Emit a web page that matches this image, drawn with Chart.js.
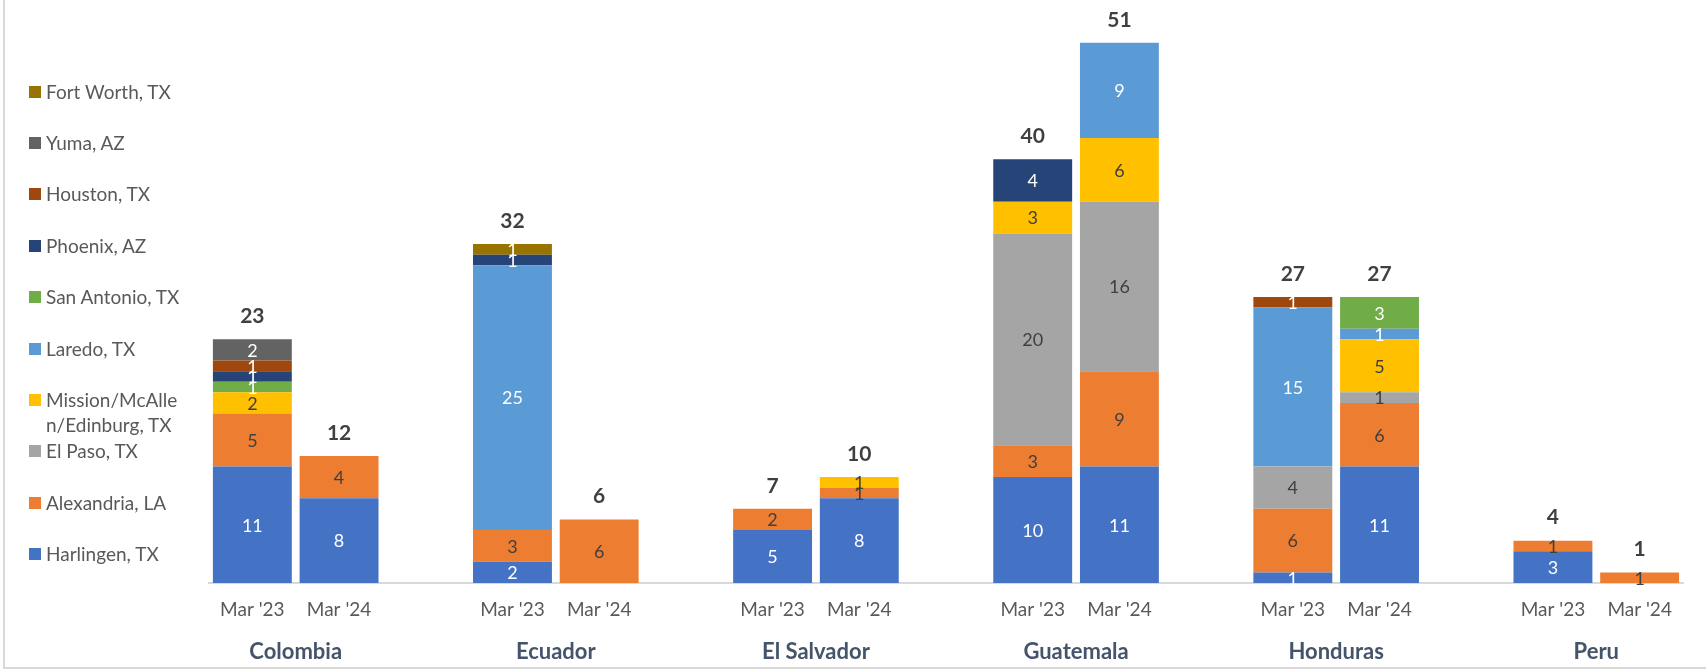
<!DOCTYPE html>
<html>
<head>
<meta charset="utf-8">
<script src="https://cdn.jsdelivr.net/npm/chart.js@4.4.1/dist/chart.umd.min.js"></script>
<style>
  body { margin: 0; background: #fff; }
  #wrap { position: relative; width: 1706px; height: 670px; overflow: hidden; font-family: Lato, sans-serif; }
  #frame { position: absolute; left: 3px; top: -4px; width: 1712px; height: 673px; box-sizing: border-box;
           border-left: 2px solid #d9d9d9; border-bottom: 2px solid #d9d9d9; pointer-events: none; }
  #chart { position: absolute; left: 0; top: 0; }
  .item { position: absolute; left: 29px; display: flex; align-items: flex-start; }
  .box { width: 12px; height: 12px; margin-top: 7px; flex: none; }
  .txt { margin-left: 5px; white-space: nowrap; line-height: 25px; font-size: 19px; color: #595959; }
  .txt.wrap { white-space: normal; width: 132px; word-break: break-all; }
</style>
</head>
<body>
<div id="wrap">
  <canvas id="chart" width="1706" height="670"></canvas>
  <div id="legend"></div>
  <div id="frame"></div>
</div>
<script>
// Countries and periods (two bars per country)
const countries = ['Colombia', 'Ecuador', 'El Salvador', 'Guatemala', 'Honduras', 'Peru'];
const periods = ["Mar '23", "Mar '24"];

// Values per port, in order: Colombia 23/24, Ecuador 23/24, El Salvador 23/24,
// Guatemala 23/24, Honduras 23/24, Peru 23/24
const harlingen   = [11, 8, 2, 0, 5, 8, 10, 11, 1, 11, 3, 0];
const alexandria  = [5, 4, 3, 6, 2, 1, 3, 9, 6, 6, 1, 1];
const elPaso      = [0, 0, 0, 0, 0, 0, 20, 16, 4, 1, 0, 0];
const mission     = [2, 0, 0, 0, 0, 1, 3, 6, 0, 5, 0, 0];
const laredo      = [0, 0, 25, 0, 0, 0, 0, 9, 15, 1, 0, 0];
const sanAntonio  = [1, 0, 0, 0, 0, 0, 0, 0, 0, 3, 0, 0];
const phoenix     = [1, 0, 1, 0, 0, 0, 4, 0, 0, 0, 0, 0];
const houston     = [1, 0, 0, 0, 0, 0, 0, 0, 1, 0, 0, 0];
const yuma        = [2, 0, 0, 0, 0, 0, 0, 0, 0, 0, 0, 0];
const fortWorth   = [0, 0, 1, 0, 0, 0, 0, 0, 0, 0, 0, 0];

// Series definitions, bottom of stack first
const series = [
  { label: 'Harlingen, TX', data: harlingen, color: '#4472C4', text: '#ffffff' },
  { label: 'Alexandria, LA', data: alexandria, color: '#ED7D31', text: '#404040' },
  { label: 'El Paso, TX', data: elPaso, color: '#A5A5A5', text: '#404040' },
  { label: 'Mission/McAllen/Edinburg, TX', data: mission, color: '#FFC000', text: '#404040' },
  { label: 'Laredo, TX', data: laredo, color: '#5B9BD5', text: '#ffffff' },
  { label: 'San Antonio, TX', data: sanAntonio, color: '#70AD47', text: '#ffffff' },
  { label: 'Phoenix, AZ', data: phoenix, color: '#264478', text: '#ffffff' },
  { label: 'Houston, TX', data: houston, color: '#9E480E', text: '#ffffff' },
  { label: 'Yuma, AZ', data: yuma, color: '#636363', text: '#ffffff' },
  { label: 'Fort Worth, TX', data: fortWorth, color: '#997300', text: '#ffffff' }
];

// Expand to category slots with an empty slot between countries
const slotLabels = [];
countries.forEach((c, k) => {
  if (k > 0) slotLabels.push('');
  periods.forEach(p => slotLabels.push(p));
});

function toSlots(values) {
  const out = [];
  countries.forEach((c, k) => {
    if (k > 0) out.push(null);
    out.push(values[k * 2], values[k * 2 + 1]);
  });
  return out;
}

// Draws segment values, bar totals and country names
const labelsPlugin = {
  id: 'barLabels',
  afterDatasetsDraw(chart) {
    const ctx = chart.ctx;
    const xs = chart.scales.x;
    const ys = chart.scales.y;
    ctx.save();
    ctx.textAlign = 'center';
    ctx.textBaseline = 'middle';

    ctx.font = '18px Lato';
    chart.data.datasets.forEach((ds, di) => {
      const meta = chart.getDatasetMeta(di);
      meta.data.forEach((bar, i) => {
        const v = ds.data[i];
        if (!v) return;
        ctx.fillStyle = ds.valueColor;
        ctx.fillText(String(v), bar.x, (bar.y + bar.base) / 2 + 1);
      });
    });

    ctx.font = 'bold 21px Lato';
    ctx.fillStyle = '#404040';
    slotLabels.forEach((l, i) => {
      if (!l) return;
      const total = chart.data.datasets.reduce((s, ds) => s + (ds.data[i] || 0), 0);
      ctx.fillText(String(total), xs.getPixelForValue(i), ys.getPixelForValue(total) - 23);
    });

    ctx.font = 'bold 22px Lato';
    ctx.fillStyle = '#44546A';
    countries.forEach((c, k) => {
      const cx = (xs.getPixelForValue(k * 3) + xs.getPixelForValue(k * 3 + 1)) / 2;
      ctx.fillText(c, cx, chart.chartArea.bottom + 69);
    });
    ctx.restore();
  }
};

function buildLegend() {
  const legend = document.getElementById('legend');
  series.slice().reverse().forEach((s, i) => {
    const item = document.createElement('div');
    item.className = 'item';
    item.style.top = (91 + i * 51.4 - 12.5) + 'px';
    const cls = s.label.length > 20 ? 'txt wrap' : 'txt';
    item.innerHTML = '<div class="box" style="background:' + s.color + '"></div>' +
                     '<div class="' + cls + '">' + s.label + '</div>';
    legend.appendChild(item);
  });
}

function drawChart() {
  const ctx = document.getElementById('chart').getContext('2d');
  return new Chart(ctx, {
    type: 'bar',
    data: {
      labels: slotLabels,
      datasets: series.map(s => ({
        label: s.label,
        data: toSlots(s.data),
        backgroundColor: s.color,
        valueColor: s.text,
        borderWidth: 0,
        barPercentage: 0.91,
        categoryPercentage: 1.0
      }))
    },
    options: {
      responsive: false,
      animation: false,
      devicePixelRatio: 1,
      layout: { padding: { left: 209, right: 23, top: 11, bottom: 0 } },
      plugins: {
        legend: { display: false },
        tooltip: { enabled: false }
      },
      scales: {
        x: {
          stacked: true,
          grid: { display: false, drawTicks: false },
          border: { display: true, color: '#d9d9d9', width: 2 },
          ticks: {
            color: '#595959',
            font: { family: 'Lato', size: 19 },
            padding: 15,
            autoSkip: false,
            maxRotation: 0
          },
          afterFit(scale) { scale.height = 87; }
        },
        y: {
          stacked: true,
          display: false,
          min: 0,
          max: 54
        }
      }
    },
    plugins: [labelsPlugin]
  });
}

buildLegend();
Promise.all([
  document.fonts.load('19px Lato'),
  document.fonts.load('bold 21px Lato')
]).catch(() => {}).then(drawChart);
</script>
</body>
</html>
